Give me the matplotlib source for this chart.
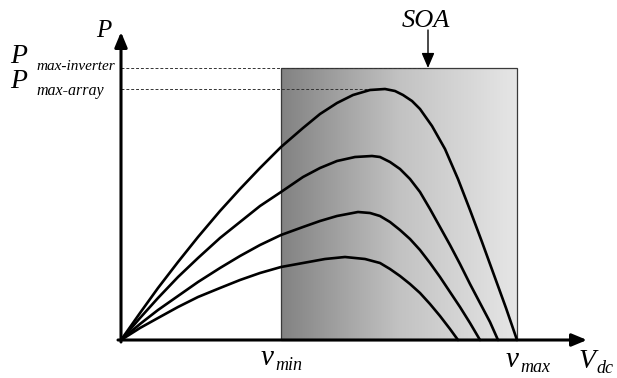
import numpy as np
import matplotlib.pyplot as plt
from matplotlib.colors import LinearSegmentedColormap
from matplotlib.patches import Rectangle

# values (V in volts, P in watts)
v_min = 160
v_max = 396
p_inverter = 272
p_array = 251
v_peak_array = 264
v_soa = 307

# four P-V curves (top = highest irradiance)
v1 = [0, 19, 37, 57, 77, 99, 119, 139, 160, 182, 199, 216, 232, 249, 264, 274,
      282, 291, 299, 311, 324, 337, 349, 361, 373, 385, 396]
p1 = [0, 27, 52, 78, 103, 129, 151, 172, 193, 212, 226, 237, 245, 250, 251, 249,
      245, 239, 231, 214, 191, 161, 130, 98, 65, 32, 0]

v2 = [0, 19, 37, 57, 77, 99, 119, 139, 160, 182, 199, 216, 234, 251, 259, 269,
      279, 289, 299, 309, 319, 329, 339, 349, 359, 369, 377]
p2 = [0, 22, 42, 63, 82, 102, 118, 134, 148, 163, 172, 179, 183, 184, 183, 178,
      171, 161, 148, 131, 113, 95, 76, 56, 37, 18, 0]

v3 = [0, 19, 37, 57, 77, 99, 119, 139, 160, 182, 199, 216, 237, 249, 259, 269,
      279, 289, 299, 309, 319, 329, 339, 349, 359]
p3 = [0, 16, 30, 44, 58, 72, 84, 95, 105, 113, 119, 124, 128, 127, 124, 118,
      110, 101, 90, 77, 63, 48, 33, 17, 0]

v4 = [0, 19, 37, 57, 77, 99, 119, 139, 160, 182, 204, 224, 244, 259, 269, 279,
      289, 299, 309, 319, 329, 337]
p4 = [0, 12, 22, 33, 43, 52, 60, 67, 73, 77, 81, 83, 81, 77, 71, 64,
      56, 47, 36, 24, 11, 0]

curves = [(v1, p1), (v2, p2), (v3, p3), (v4, p4)]

W, H = 617, 378
X0, Y0 = 121, 340        # origin in pixels (1 V = 1 px, 1 W = 1 px)

fig = plt.figure(figsize=(W / 100, H / 100), dpi=100)
ax = fig.add_axes([0, 0, 1, 1])
ax.axis('off')

# safe operating area, shaded dark -> light
grey = LinearSegmentedColormap.from_list('soa', [(0, '#828282'), (0.5, '#c2c2c2'), (1, '#e6e6e6')])
grad = np.linspace(0, 1, 256).reshape(1, -1)
ax.imshow(grad, extent=[v_min, v_max, 0, p_inverter], cmap=grey, aspect='auto', zorder=1)
ax.add_patch(Rectangle((v_min, 0), v_max - v_min, p_inverter, fill=False,
                       ec='#3a3a3a', lw=0.9, zorder=2))

ax.plot([0, v_soa], [p_inverter, p_inverter], color='#333333', lw=0.7, dashes=(3, 2), zorder=2)
ax.plot([0, v_peak_array], [p_array, p_array], color='#333333', lw=0.7, dashes=(3, 2), zorder=2)

for v, p in curves:
    ax.plot(v, p, color='k', lw=1.9, solid_capstyle='round', solid_joinstyle='round', zorder=3)

# axes with arrow heads
arr = dict(arrowstyle='-|>,head_length=0.6,head_width=0.25', color='k', lw=2.2,
           mutation_scale=15, shrinkA=0, shrinkB=0)
ax.annotate('', xy=(466, 0), xytext=(-3, 0), arrowprops=arr, zorder=4)
ax.annotate('', xy=(0, 308), xytext=(0, -2), arrowprops=arr, zorder=4)
ax.annotate('', xy=(v_soa, p_inverter), xytext=(v_soa, 310),
            arrowprops=dict(arrowstyle='-|>,head_length=0.7,head_width=0.3', color='k',
                            lw=1.0, mutation_scale=13, shrinkA=0, shrinkB=0), zorder=4)

ax.set_xlim(-X0, W - X0)
ax.set_ylim(-(H - Y0), Y0)


def put(x, y, s, size):
    fig.text(x / W, 1 - y / H, s, fontsize=size, family='Liberation Serif',
             style='italic', ha='left', va='baseline')


put(96, 37, 'P', 18)
put(10, 63, 'P', 20)
put(36, 70, 'max-inverter', 11)
put(10, 88, 'P', 20)
put(36, 95, 'max-array', 11.5)
put(402, 27, 'SOA', 19)
put(261, 365, 'v', 21)
put(275, 370, 'min', 13)
put(506, 367, 'v', 21)
put(520, 372, 'max', 13)
put(579, 368, 'V', 20)
put(596, 373, 'dc', 13)

fig.savefig('out.png', dpi=100)
